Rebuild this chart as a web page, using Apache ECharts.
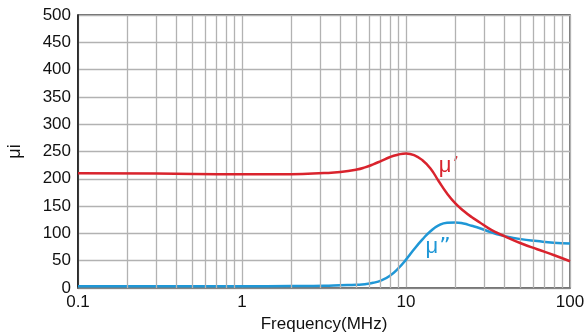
<!DOCTYPE html>
<html>
<head>
<meta charset="utf-8">
<script src="https://cdn.jsdelivr.net/npm/echarts@6/dist/echarts.min.js"></script>
<style>
html,body{margin:0;padding:0;background:#fff;}
#chart{width:587px;height:335px;}
</style>
</head>
<body>
<div id="chart"></div>
<script>
// Frequency (MHz) and permeability values
const muRealFreq = [0.1, 0.3, 1, 2, 3.16, 3.98, 5.01, 5.62, 6.31, 7.08, 7.94, 8.91, 10, 11.2, 12.6, 14.1, 15.8, 17.8, 20, 22.4, 25.1, 28.2, 31.6, 35.5, 39.8, 50.1, 63.1, 79.4, 100];
const muRealVal  = [210, 209.5, 208.5, 208.5, 210.5, 212.5, 217, 221, 226.5, 233, 239.5, 244, 246.5, 243.5, 234, 219, 196, 173, 155, 141.5, 130, 120, 110, 102, 95, 82, 71, 60.5, 49];
const muImagFreq = [0.1, 0.3, 1, 2, 3.16, 3.98, 5.01, 5.62, 6.31, 7.08, 7.94, 8.91, 10, 11.2, 12.6, 14.1, 15.8, 17.8, 20, 22.4, 25.1, 28.2, 31.6, 35.5, 39.8, 50.1, 63.1, 79.4, 100];
const muImagVal  = [3, 3, 3, 3.5, 4, 5, 6, 7, 9.5, 14, 22, 35, 52, 71, 89, 104, 114.5, 119.5, 120, 118, 114, 109.5, 104, 99, 95, 89.5, 86, 83, 81.5];
const xTickLabels = ['0.1', '1', '10', '100'];
const yMin = 0, yMax = 500, yStep = 50;
const labelReal = ["μ", "\u2019"];
const labelImag = ["μ", "\u201D"];
const xName = 'Frequency(MHz)';
const yName = 'μi';

const minorGrid = [];
[0.1, 1, 10].forEach(d => { for (let k = 2; k <= 9; k++) minorGrid.push(+(d * k).toPrecision(3)); });

const chart = echarts.init(document.getElementById('chart'), null, {renderer: 'canvas'});
const font = '"Liberation Sans", Arial, Helvetica, sans-serif';
const gridColor = '#b2b2b2';
function muLabel(parts, color, x, y) {
  return {type: 'text', x: x, y: y, style: {
    text: '{m|' + parts[0] + '}{q|' + parts[1] + '}',
    align: 'center', verticalAlign: 'middle',
    rich: {
      m: {fill: color, fontSize: 22, fontFamily: font},
      q: {fill: color, fontSize: 22, fontFamily: '"DejaVu Sans", sans-serif', verticalAlign: 'top', padding: [0, 0, 0, 1]}
    }
  }};
}
chart.setOption({
  animation: false,
  backgroundColor: '#fff',
  textStyle: {fontFamily: font},
  grid: {left: 78, right: 17, top: 15, bottom: 47, show: true, borderColor: '#333', borderWidth: 1.3,
         containLabel: false, outerBoundsMode: 'none'},
  xAxis: {
    type: 'log', logBase: 10, min: 0.1, max: 100,
    name: xName, nameLocation: 'middle', nameGap: 24,
    nameTextStyle: {fontSize: 17, color: '#111', fontFamily: font},
    axisLine: {show: true, lineStyle: {color: '#777', width: 1.5}},
    axisTick: {show: false},
    axisLabel: {fontSize: 17, color: '#111', margin: 6, fontFamily: font,
      formatter: v => { const s = xTickLabels.find(t => Math.abs(parseFloat(t) - v) < 1e-6 * Math.max(1, v)); return s || ''; }},
    splitLine: {show: true, lineStyle: {color: gridColor, width: 1.3}}
  },
  yAxis: {
    type: 'value', min: yMin, max: yMax, interval: yStep,
    name: yName, nameLocation: 'middle', nameGap: 54, nameRotate: 90,
    nameTextStyle: {fontSize: 18, color: '#111', fontFamily: font},
    axisLine: {show: true, lineStyle: {color: '#111', width: 1.5}},
    axisTick: {show: false},
    axisLabel: {fontSize: 17, color: '#111', margin: 7, fontFamily: font},
    splitLine: {show: true, lineStyle: {color: gridColor, width: 1.3}}
  },
  series: [
    {
      type: 'line', data: [[0.1, -100]], symbol: 'none', silent: true, z: 1,
      lineStyle: {opacity: 0},
      markLine: {
        silent: true, symbol: 'none', label: {show: false},
        lineStyle: {color: gridColor, width: 1.3, type: 'solid'},
        emphasis: {disabled: true},
        data: minorGrid.map(v => ({xAxis: v}))
      }
    },
    {
      type: 'line', z: 5, smooth: 0.5, symbol: 'none',
      lineStyle: {color: '#d9232d', width: 2.5},
      data: muRealFreq.map((f, i) => [f, muRealVal[i]])
    },
    {
      type: 'line', z: 4, smooth: 0.5, symbol: 'none',
      lineStyle: {color: '#1f97d6', width: 2.5},
      data: muImagFreq.map((f, i) => [f, muImagVal[i]])
    }
  ],
  graphic: [
    muLabel(labelReal, '#d9232d', 449, 166),
    muLabel(labelImag, '#1f97d6', 438, 247)
  ]
});
</script>
</body>
</html>
